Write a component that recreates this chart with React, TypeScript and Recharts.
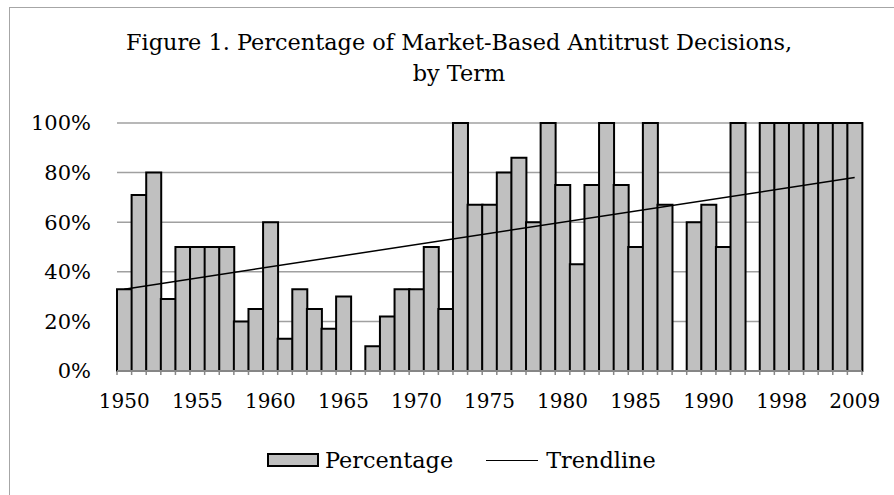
import { ComposedChart, Bar, Line, XAxis, YAxis, CartesianGrid } from 'recharts';

// share of market-based decisions per term (null = no bar for that slot)
const percentage = [
  33, 71, 80, 29, 50, 50, 50, 50, 20, 25, 60, 13, 33, 25, 17, 30, null,
  10, 22, 33, 33, 50, 25, 100, 67, 67, 80, 86, 60, 100, 75, 43, 75, 100, 75, 50, 100, 67, null,
  60, 67, 50, 100, null,
  100, 100, 100, 100, 100, 100, 100,
];

// linear trendline end points, first and last term
const trendStart = 33;
const trendEnd = 78;

// x labels shown on every fifth term
const tickLabels = ['1950', '1955', '1960', '1965', '1970', '1975', '1980', '1985', '1990', '1998', '2009'];
const yTicks = [0, 20, 40, 60, 80, 100];

const data = percentage.map((p, i) => ({
  idx: i,
  percentage: p,
  trend: i === 0 ? trendStart : i === percentage.length - 1 ? trendEnd : null,
}));

const FONT = '"DejaVu Serif", serif';
const BAR_FILL = '#c0c0c0';
const AXIS_GRAY = '#868686';

function TermTick(props: any) {
  const { x, y, payload, index, width, visibleTicksCount } = props;
  const band = width && visibleTicksCount ? width / visibleTicksCount : 14.6;
  const left = x - band / 2;
  const isLast = index === visibleTicksCount - 1;
  const v = Number(payload.value);
  const label = v % 5 === 0 ? tickLabels[v / 5] : null;
  return (
    <g>
      <line x1={left} x2={left} y1={y} y2={y + 4} stroke={AXIS_GRAY} strokeWidth={1.5} />
      {isLast && <line x1={left + band} x2={left + band} y1={y} y2={y + 4} stroke={AXIS_GRAY} strokeWidth={1.5} />}
      {label && (
        <text x={x} y={y + 37} textAnchor="middle" fontFamily={FONT} fontSize={20} fill="#000">
          {label}
        </text>
      )}
    </g>
  );
}

export default function App() {
  return (
    <div style={{ position: 'fixed', left: 0, top: 0, width: 894, height: 495, overflow: 'hidden', background: '#fff' }}>
      <div
        style={{
          position: 'absolute', left: 9, top: 7, width: 1000, height: 1000,
          borderLeft: '1.5px solid #a6a6a6', borderTop: '1.5px solid #a6a6a6',
        }}
      />
      <div
        style={{
          position: 'absolute', left: 0, top: 27, width: 918, textAlign: 'center',
          fontFamily: FONT, fontSize: 22.4, lineHeight: '30.6px', color: '#000',
        }}
      >
        Figure 1. Percentage of Market-Based Antitrust Decisions,
        <br />
        by Term
      </div>
      <div style={{ position: 'absolute', left: 0, top: 0 }}>
        <ComposedChart
          width={894}
          height={495}
          data={data}
          margin={{ top: 123, right: 32, bottom: 84, left: 0 }}
          barCategoryGap={0}
          barGap={0}
        >
          <CartesianGrid vertical={false} stroke="#a0a0a0" strokeWidth={1.5} />
          <XAxis
            dataKey="idx"
            type="category"
            interval={0}
            height={40}
            tickSize={0}
            tickMargin={0}
            tickLine={false}
            axisLine={{ stroke: AXIS_GRAY, strokeWidth: 2 }}
            tick={<TermTick />}
          />
          <YAxis
            domain={[0, 100]}
            ticks={yTicks}
            tickFormatter={(v: number) => `${v}%`}
            axisLine={false}
            tickLine={false}
            tickSize={0}
            tickMargin={26}
            width={117}
            tick={{ fontFamily: FONT, fontSize: 21, fill: '#000' }}
          />
          <Bar dataKey="percentage" fill={BAR_FILL} stroke="#000" strokeWidth={2} isAnimationActive={false} />
          <Line
            dataKey="trend"
            stroke="#000"
            strokeWidth={1.5}
            dot={false}
            activeDot={false}
            connectNulls
            isAnimationActive={false}
          />
        </ComposedChart>
      </div>
      <div
        style={{
          position: 'absolute', left: 267, top: 446, height: 28, display: 'flex', alignItems: 'center',
          fontFamily: FONT, fontSize: 22.4, color: '#000',
        }}
      >
        <span style={{ display: 'inline-block', width: 52, height: 14, boxSizing: 'border-box', background: BAR_FILL, border: '2px solid #000' }} />
        <span style={{ marginLeft: 6 }}>Percentage</span>
        <span style={{ display: 'inline-block', width: 52, height: 0, borderTop: '1.5px solid #000', marginLeft: 33 }} />
        <span style={{ marginLeft: 8 }}>Trendline</span>
      </div>
    </div>
  );
}
